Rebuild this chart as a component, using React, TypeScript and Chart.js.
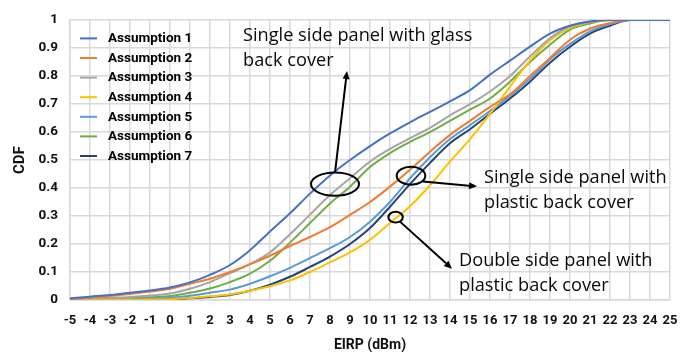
import React, { useEffect, useRef } from "react";
import { Chart, registerables } from "chart.js";

Chart.register(...registerables);

const eirp = [-5,-4,-3,-2,-1,0,1,2,3,4,5,6,7,8,9,10,11,12,13,14,15,16,17,18,19,20,21,22,23,24,25];

const assumption1 = [0.006,0.012,0.018,0.026,0.034,0.045,0.063,0.09,0.125,0.178,0.245,0.31,0.38,0.445,0.5,0.55,0.595,0.635,0.672,0.71,0.75,0.805,0.855,0.905,0.952,0.98,0.995,1,1,1,1];
const assumption2 = [0.004,0.009,0.014,0.021,0.03,0.04,0.058,0.076,0.1,0.128,0.158,0.193,0.225,0.26,0.304,0.35,0.405,0.465,0.53,0.59,0.64,0.69,0.735,0.8,0.865,0.93,0.97,0.99,1,1,1];
const assumption3 = [0.003,0.005,0.008,0.011,0.016,0.023,0.04,0.064,0.096,0.128,0.17,0.235,0.305,0.375,0.435,0.495,0.54,0.578,0.615,0.66,0.70,0.745,0.80,0.87,0.935,0.978,0.995,1,1,1,1];
const assumption4 = [0,0,0.001,0.001,0.002,0.003,0.007,0.013,0.02,0.033,0.049,0.07,0.1,0.135,0.17,0.215,0.275,0.335,0.41,0.495,0.575,0.665,0.762,0.855,0.928,0.972,0.993,1,1,1,1];
const assumption5 = [0.001,0.002,0.003,0.004,0.006,0.008,0.015,0.026,0.037,0.058,0.085,0.115,0.15,0.185,0.225,0.28,0.35,0.435,0.51,0.575,0.625,0.675,0.73,0.79,0.86,0.915,0.96,0.985,1,1,1];
const assumption6 = [0.002,0.003,0.005,0.007,0.01,0.014,0.026,0.041,0.064,0.094,0.14,0.205,0.275,0.345,0.405,0.475,0.525,0.565,0.60,0.64,0.68,0.72,0.78,0.85,0.912,0.966,0.988,1,1,1,1];
const assumption7 = [0,0,0.001,0.001,0.002,0.003,0.006,0.011,0.018,0.033,0.055,0.083,0.118,0.155,0.2,0.257,0.333,0.414,0.49,0.56,0.61,0.665,0.72,0.78,0.848,0.905,0.952,0.98,1,1,1];

const seriesNames = ["Assumption 1","Assumption 2","Assumption 3","Assumption 4","Assumption 5","Assumption 6","Assumption 7"];
const seriesValues = [assumption1, assumption2, assumption3, assumption4, assumption5, assumption6, assumption7];
const seriesColors = ["#4472C4","#ED7D31","#A5A5A5","#FFC000","#5B9BD5","#70AD47","#264478"];

const xTitle = "EIRP (dBm)";
const yTitle = "CDF";

// annotations (data coordinates)
const annotationTexts = [
  { lines: ["Single side panel with glass", "back cover"], x: 3.65, y: 0.944 },
  { lines: ["Single side panel with", "plastic back cover"], x: 15.7, y: 0.437 },
  { lines: ["Double side panel with", "plastic back cover"], x: 14.45, y: 0.14 },
];
const ellipses = [
  { x: 8.25, y: 0.414, rx: 24, ry: 11.7 },
  { x: 12.05, y: 0.444, rx: 14.3, ry: 9 },
  { x: 11.28, y: 0.296, rx: 7.2, ry: 5.4 },
];
const arrows = [
  { x1: 8.25, y1: 0.455, x2: 8.85, y2: 0.818 },
  { x1: 12.65, y1: 0.423, x2: 15.35, y2: 0.406 },
  { x1: 11.5, y1: 0.28, x2: 14.1, y2: 0.112 },
];

const BOLD_FONT = "Roboto, 'Liberation Sans', sans-serif";
const TEXT_FONT = "'Open Sans', 'Noto Sans', sans-serif";

const overlayPlugin = {
  id: "overlay",
  afterDraw(chart: any) {
    const ctx = chart.ctx;
    const xs = chart.scales.x;
    const ys = chart.scales.y;
    const area = chart.chartArea;
    ctx.save();
    // legend
    ctx.font = `bold 13.5px ${BOLD_FONT}`;
    ctx.textBaseline = "middle";
    ctx.textAlign = "left";
    seriesNames.forEach((name, i) => {
      const y = area.top + 18.3 + i * 19.6;
      ctx.strokeStyle = seriesColors[i];
      ctx.lineWidth = 2;
      ctx.beginPath();
      ctx.moveTo(area.left + 10, y);
      ctx.lineTo(area.left + 27, y);
      ctx.stroke();
      ctx.fillStyle = "#000";
      ctx.fillText(name, area.left + 38, y + 0.5);
    });
    // ellipses
    ctx.strokeStyle = "#000";
    ctx.lineWidth = 2;
    ellipses.forEach((e) => {
      ctx.beginPath();
      ctx.ellipse(xs.getPixelForValue(e.x), ys.getPixelForValue(e.y), e.rx, e.ry, 0, 0, Math.PI * 2);
      ctx.stroke();
    });
    // arrows
    arrows.forEach((a) => {
      const x1 = xs.getPixelForValue(a.x1), y1 = ys.getPixelForValue(a.y1);
      const x2 = xs.getPixelForValue(a.x2), y2 = ys.getPixelForValue(a.y2);
      const ang = Math.atan2(y2 - y1, x2 - x1);
      const hl = 8, hw = 3.5;
      const bx = x2 - hl * Math.cos(ang), by = y2 - hl * Math.sin(ang);
      ctx.beginPath();
      ctx.moveTo(x1, y1);
      ctx.lineTo(bx, by);
      ctx.stroke();
      ctx.fillStyle = "#000";
      ctx.beginPath();
      ctx.moveTo(x2, y2);
      ctx.lineTo(bx + hw * Math.sin(ang), by - hw * Math.cos(ang));
      ctx.lineTo(bx - hw * Math.sin(ang), by + hw * Math.cos(ang));
      ctx.closePath();
      ctx.fill();
    });
    // texts
    ctx.font = `18.2px ${TEXT_FONT}`;
    ctx.fillStyle = "#0a0a0a";
    ctx.textBaseline = "middle";
    annotationTexts.forEach((t) => {
      const x = xs.getPixelForValue(t.x), y = ys.getPixelForValue(t.y);
      t.lines.forEach((ln, i) => ctx.fillText(ln, x, y + i * 25));
    });
    ctx.restore();
  },
};

export default function App() {
  const ref = useRef<HTMLCanvasElement | null>(null);
  useEffect(() => {
    if (!ref.current) return;
    const chart = new Chart(ref.current, {
      type: "line",
      data: {
        datasets: seriesNames.map((name, i) => ({
          label: name,
          data: eirp.map((x, j) => ({ x, y: seriesValues[i][j] })),
          borderColor: seriesColors[i],
          backgroundColor: seriesColors[i],
          borderWidth: 2,
          pointRadius: 0,
          cubicInterpolationMode: "monotone" as const,
          fill: false,
        })),
      },
      options: {
        animation: false,
        responsive: false,
        maintainAspectRatio: false,
        layout: { padding: { top: 14, right: 22, left: 0, bottom: 0 } },
        plugins: { legend: { display: false }, tooltip: { enabled: false } },
        scales: {
          x: {
            type: "linear",
            min: -5,
            max: 25,
            afterFit: (s: any) => { s.height = 56; },
            ticks: {
              stepSize: 1,
              autoSkip: false,
              maxRotation: 0,
              padding: 13,
              color: "#111",
              font: { family: BOLD_FONT, size: 13, weight: "bold" },
              callback: (v: any) => String(v),
            },
            grid: { color: "#d9d9d9", lineWidth: 1.5, drawTicks: false },
            border: { color: "#d9d9d9", width: 1.5 },
            title: {
              display: true,
              text: xTitle,
              color: "#111",
              font: { family: BOLD_FONT, size: 14, weight: "bold" },
              padding: { top: 0, bottom: 2 },
            },
          },
          y: {
            min: 0,
            max: 1,
            afterFit: (s: any) => { s.width = 70; },
            ticks: {
              stepSize: 0.1,
              padding: 12,
              color: "#111",
              font: { family: BOLD_FONT, size: 13.5, weight: "bold" },
              callback: (v: any) => String(Math.round(Number(v) * 10) / 10),
            },
            grid: { color: "#d9d9d9", lineWidth: 1.5, drawTicks: false },
            border: { color: "#d9d9d9", width: 1.5 },
            title: {
              display: true,
              text: yTitle,
              color: "#111",
              font: { family: BOLD_FONT, size: 15, weight: "bold" },
              padding: { top: 11, bottom: 0 },
            },
          },
        },
      },
      plugins: [overlayPlugin],
    });
    return () => chart.destroy();
  }, []);
  return (
    <div style={{ position: "fixed", left: 0, top: 0, width: 692, height: 356, background: "#fff" }}>
      <canvas ref={ref} width={692} height={356} style={{ width: 692, height: 356 }} />
    </div>
  );
}
